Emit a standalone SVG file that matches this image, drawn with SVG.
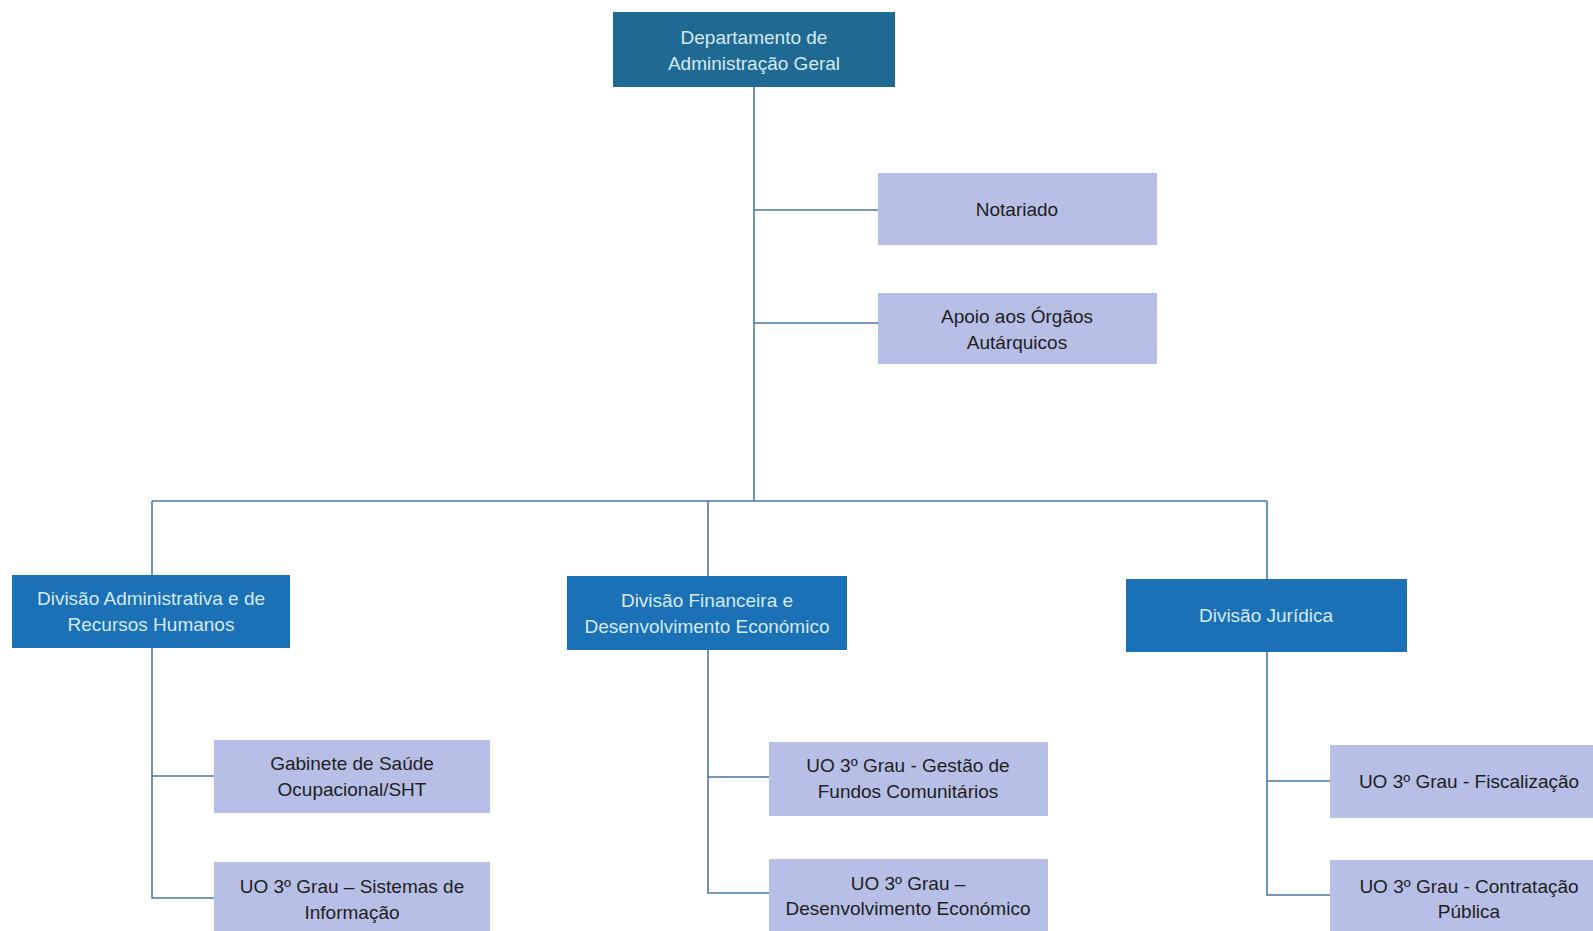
<svg xmlns="http://www.w3.org/2000/svg" width="1593" height="931" viewBox="0 0 1593 931">
<style>
.top{fill:#1f6a92}
.div{fill:#1a71b6}
.sub{fill:#b7bfe6}
.tw{font-family:"Liberation Sans",Arial,sans-serif;font-size:19px;fill:#d6e9f3;text-anchor:middle}
.tb{font-family:"Liberation Sans",Arial,sans-serif;font-size:19px;fill:#1e1e1e;text-anchor:middle}
.ln{stroke:#4a78a3;stroke-width:1.6;fill:none}
</style>
<rect width="1593" height="931" fill="#ffffff"/>
<g id="connectors">
<path class="ln" d="M754 87V501M754 210H878M754 323H878M152 501H1267M152 501V575M708 501V576M1267 501V579"/>
<path class="ln" d="M152 648V898H214M152 776H214"/>
<path class="ln" d="M708 650V893H769M708 777H769"/>
<path class="ln" d="M1267 652V895H1330M1267 781H1330"/>
</g>
<g id="dag"><rect class="top" x="613" y="12" width="282" height="75"/><text class="tw" x="754" y="44">Departamento de</text><text class="tw" x="754" y="70">Administração Geral</text></g>
<g id="notariado"><rect class="sub" x="878" y="173" width="279" height="72"/><text class="tb" x="1017" y="216">Notariado</text></g>
<g id="apoio"><rect class="sub" x="878" y="293" width="279" height="71"/><text class="tb" x="1017" y="323">Apoio aos Órgãos</text><text class="tb" x="1017" y="349">Autárquicos</text></g>
<g id="div-adm"><rect class="div" x="12" y="575" width="278" height="73"/><text class="tw" x="151" y="605">Divisão Administrativa e de</text><text class="tw" x="151" y="631">Recursos Humanos</text></g>
<g id="div-fin"><rect class="div" x="567" y="576" width="280" height="74"/><text class="tw" x="707" y="607">Divisão Financeira e</text><text class="tw" x="707" y="633">Desenvolvimento Económico</text></g>
<g id="div-jur"><rect class="div" x="1126" y="579" width="281" height="73"/><text class="tw" x="1266" y="622">Divisão Jurídica</text></g>
<g id="gabinete"><rect class="sub" x="214" y="740" width="276" height="73"/><text class="tb" x="352" y="770">Gabinete de Saúde</text><text class="tb" x="352" y="796">Ocupacional/SHT</text></g>
<g id="sistemas"><rect class="sub" x="214" y="862" width="276" height="75"/><text class="tb" x="352" y="893">UO 3º Grau – Sistemas de</text><text class="tb" x="352" y="919">Informação</text></g>
<g id="fundos"><rect class="sub" x="769" y="742" width="279" height="74"/><text class="tb" x="908" y="772">UO 3º Grau - Gestão de</text><text class="tb" x="908" y="798">Fundos Comunitários</text></g>
<g id="desenvolvimento"><rect class="sub" x="769" y="859" width="279" height="78"/><text class="tb" x="908" y="890">UO 3º Grau –</text><text class="tb" x="908" y="915">Desenvolvimento Económico</text></g>
<g id="fiscalizacao"><rect class="sub" x="1330" y="745" width="278" height="73"/><text class="tb" x="1469" y="788">UO 3º Grau - Fiscalização</text></g>
<g id="contratacao"><rect class="sub" x="1330" y="860" width="278" height="77"/><text class="tb" x="1469" y="893">UO 3º Grau - Contratação</text><text class="tb" x="1469" y="918">Pública</text></g>
</svg>
